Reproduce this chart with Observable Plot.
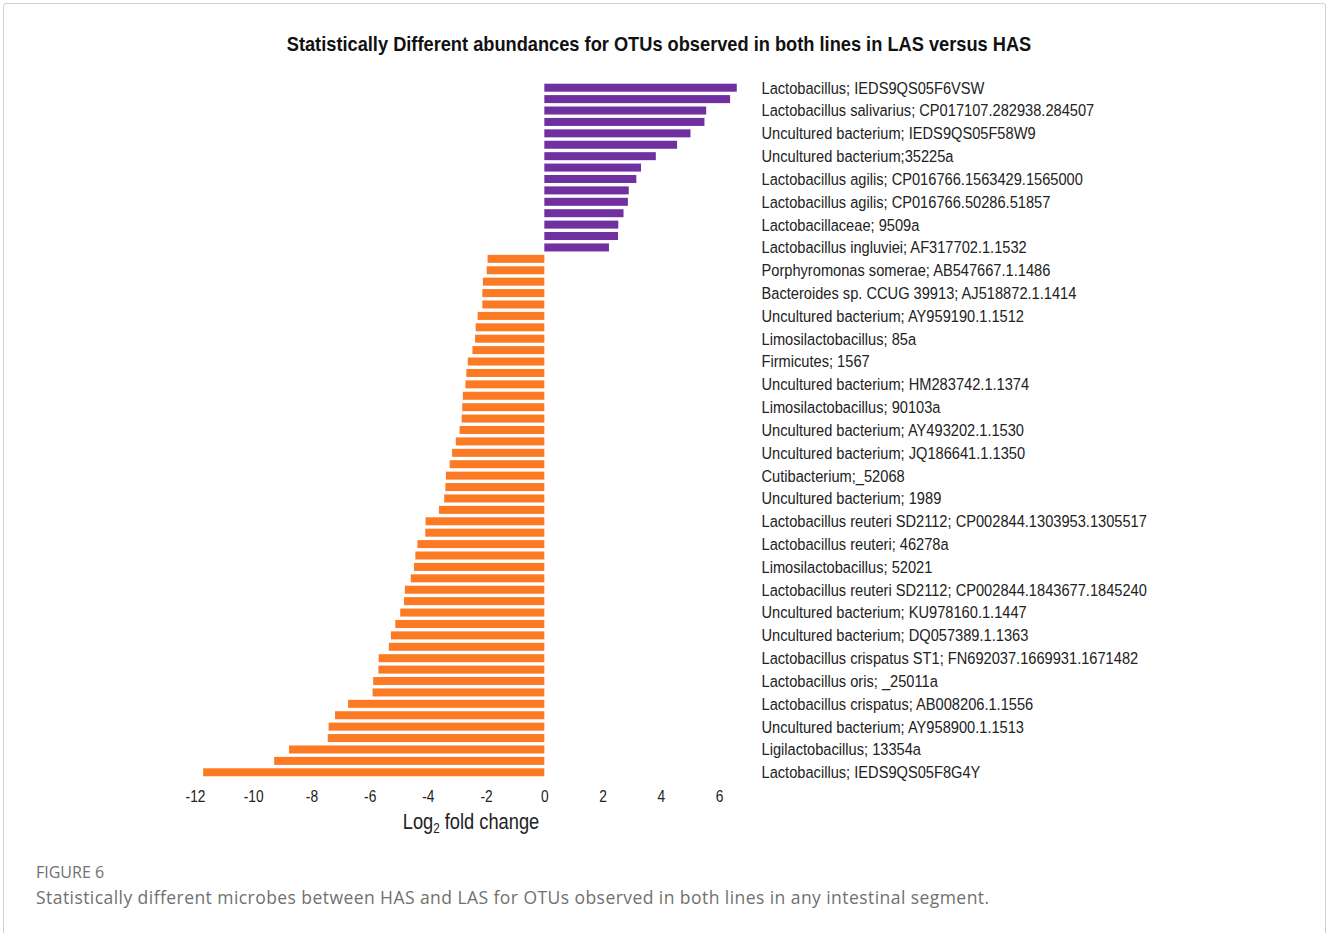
<!DOCTYPE html>
<html>
<head>
<meta charset="utf-8">
<script src="https://cdn.jsdelivr.net/npm/d3@7"></script>
<script src="https://cdn.jsdelivr.net/npm/@observablehq/plot@0.6"></script>
<style>
  html, body { margin: 0; padding: 0; background: #fff; }
  body { width: 1328px; height: 933px; position: relative; overflow: hidden; }
  .frame { position: absolute; left: 3px; top: 3px; width: 1321px; height: 940px; border: 1px solid #d0d0d0; border-radius: 3px; }
  .narrow { font-family: "Liberation Sans", Arial, sans-serif; }
  #title { position: absolute; left: 0; width: 1318px; top: 32px; text-align: center; font-size: 21px; font-weight: bold; color: #111; transform: scaleX(0.868); transform-origin: 659px 0; white-space: nowrap; }
  #chart { position: absolute; left: 0; top: 0; }
  #xlabel { position: absolute; left: 321px; width: 300px; top: 809px; text-align: center; font-size: 22px; color: #222; transform: scaleX(0.83); transform-origin: 150px 0; }
  #xlabel sub { font-size: 14px; vertical-align: -4px; line-height: 0; }
  #fig { position: absolute; left: 36px; top: 861px; font-family: "Open Sans", sans-serif; font-size: 16px; color: #707070; }
  #cap { position: absolute; left: 36px; top: 885px; font-family: "Open Sans", sans-serif; font-size: 17.5px; color: #707070; letter-spacing: 0.44px; white-space: nowrap; }
</style>
</head>
<body>
<div class="frame"></div>
<div id="chart"></div>
<div id="title" class="narrow">Statistically Different abundances for OTUs observed in both lines in LAS versus HAS</div>
<div id="xlabel" class="narrow">Log<sub>2</sub> fold change</div>
<div id="fig">FIGURE 6</div>
<div id="cap">Statistically different microbes between HAS and LAS for OTUs observed in both lines in any intestinal segment.</div>
<script>
// Labels shown on every other bar (top to bottom)
const labels = [
  "Lactobacillus; IEDS9QS05F6VSW",
  "Lactobacillus salivarius; CP017107.282938.284507",
  "Uncultured bacterium; IEDS9QS05F58W9",
  "Uncultured bacterium;35225a",
  "Lactobacillus agilis; CP016766.1563429.1565000",
  "Lactobacillus agilis; CP016766.50286.51857",
  "Lactobacillaceae; 9509a",
  "Lactobacillus ingluviei; AF317702.1.1532",
  "Porphyromonas somerae; AB547667.1.1486",
  "Bacteroides sp. CCUG 39913; AJ518872.1.1414",
  "Uncultured bacterium; AY959190.1.1512",
  "Limosilactobacillus; 85a",
  "Firmicutes; 1567",
  "Uncultured bacterium; HM283742.1.1374",
  "Limosilactobacillus; 90103a",
  "Uncultured bacterium; AY493202.1.1530",
  "Uncultured bacterium; JQ186641.1.1350",
  "Cutibacterium;_52068",
  "Uncultured bacterium; 1989",
  "Lactobacillus reuteri SD2112; CP002844.1303953.1305517",
  "Lactobacillus reuteri; 46278a",
  "Limosilactobacillus; 52021",
  "Lactobacillus reuteri SD2112; CP002844.1843677.1845240",
  "Uncultured bacterium; KU978160.1.1447",
  "Uncultured bacterium; DQ057389.1.1363",
  "Lactobacillus crispatus ST1; FN692037.1669931.1671482",
  "Lactobacillus oris; _25011a",
  "Lactobacillus crispatus; AB008206.1.1556",
  "Uncultured bacterium; AY958900.1.1513",
  "Ligilactobacillus; 13354a",
  "Lactobacillus; IEDS9QS05F8G4Y"
];

// Higher in LAS (purple), top to bottom
const upValues = [6.61, 6.38, 5.56, 5.50, 5.02, 4.56, 3.83, 3.32, 3.16, 2.90, 2.87, 2.72, 2.54, 2.53, 2.22];

// Higher in HAS (orange), top to bottom
const downValues = [
  -1.95, -1.98, -2.11, -2.13, -2.13, -2.29, -2.36, -2.38, -2.47, -2.63,
  -2.68, -2.71, -2.80, -2.82, -2.84, -2.91, -3.04, -3.17, -3.25, -3.38,
  -3.40, -3.44, -3.62, -4.08, -4.09, -4.36, -4.43, -4.48, -4.59, -4.79,
  -4.82, -4.95, -5.12, -5.27, -5.34, -5.69, -5.70, -5.88, -5.90, -6.74,
  -7.19, -7.41, -7.44, -8.77, -9.28, -11.72
];

const xTicks = [-12, -10, -8, -6, -4, -2, 0, 2, 4, 6];
const groups = ["up", "down"];
const colors = ["#7030a0", "#fc7a24"];

const values = upValues.concat(downValues);
const rows = values.map((v, i) => ({ i, v, dir: v > 0 ? "up" : "down" }));
const n = rows.length;

const chart = Plot.plot({
  width: 1328,
  height: 840,
  marginLeft: 195,
  marginRight: 609,
  marginTop: 82,
  marginBottom: 62,
  style: { fontFamily: '"Liberation Sans", Arial, sans-serif', color: "#222", background: "transparent" },
  x: { domain: [-12, 6] },
  y: { type: "band", domain: d3.range(n), padding: 0, round: false },
  color: { domain: groups, range: colors },
  marks: [
    Plot.barX(rows, { x: "v", y: "i", fill: "dir", insetTop: 1.7, insetBottom: 1.7 }),
    Plot.axisX({ ticks: xTicks, tickFormat: d => String(d), tickSize: 0, tickPadding: 12, label: null, fontSize: 16 }),
    Plot.axisY({ anchor: "right", ticks: d3.range(0, n, 2), tickFormat: i => labels[i / 2], tickSize: 0, tickPadding: 42, label: null, fontSize: 17 })
  ]
});

// Narrow the axis text horizontally (Arial Narrow look) without moving its anchor
chart.querySelectorAll('g[aria-label$="tick label"] text').forEach(t => {
  const tr = t.getAttribute("transform") || "";
  t.setAttribute("transform", `${tr} scale(0.861,1)`);
});

document.getElementById("chart").appendChild(chart);
</script>
</body>
</html>
